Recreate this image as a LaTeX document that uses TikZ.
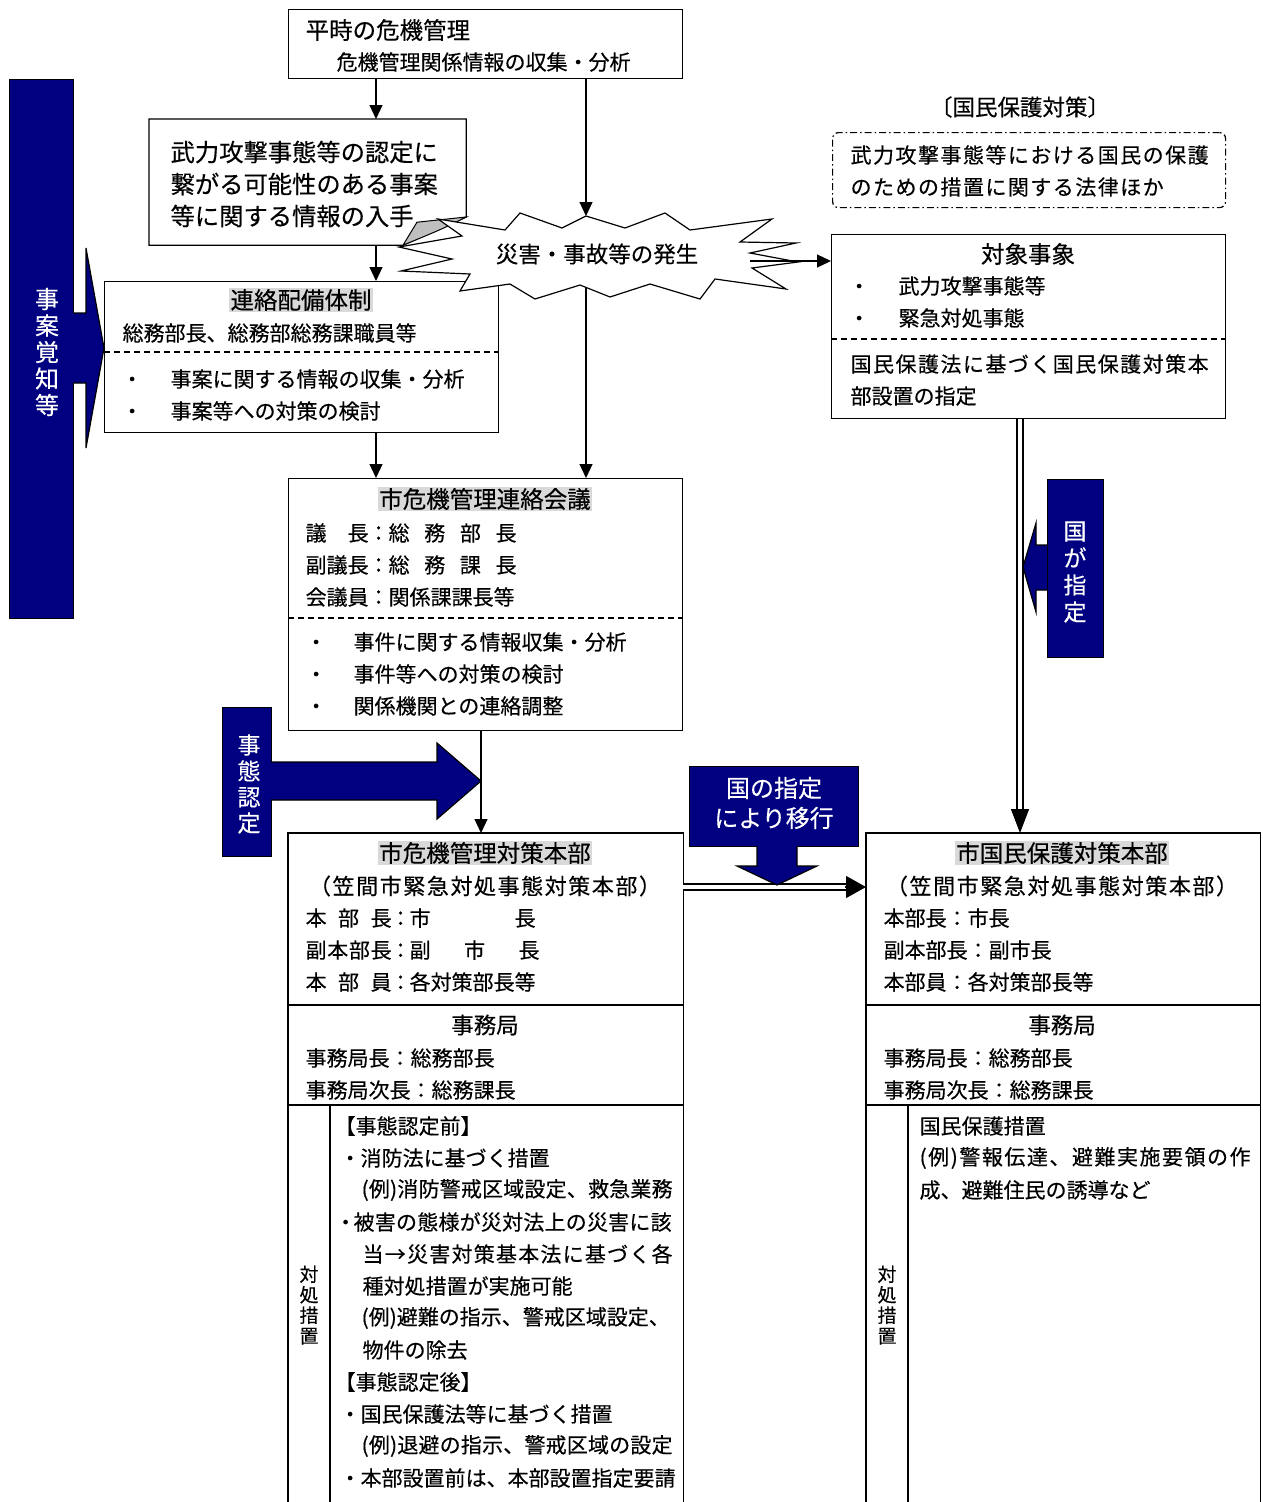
\documentclass[tikz,border=0pt]{standalone}
\usepackage{fontspec}
\setmainfont{Noto Sans CJK JP}[UprightFeatures={FakeBold=0.35}]
\newfontfamily\jpwide{Noto Sans CJK JP}[LetterSpace=7,UprightFeatures={FakeBold=0.35}]
\usetikzlibrary{arrows.meta,calc}
\newcommand\fs[1]{\fontsize{#1}{#1}\selectfont}
\newcommand\fsl[2]{\fontsize{#1}{#2}\selectfont}
% spread the characters of a line evenly over a given width
\def\spreadloop#1{\ifx\relax#1\else#1\hskip 0pt plus 1fil\expandafter\spreadloop\fi}
\newcommand\just[2]{\makebox[#1][s]{\spreadloop#2\relax\unskip}}
\definecolor{navyfill}{RGB}{0,0,128}
\definecolor{hlgray}{RGB}{217,217,217}

\begin{document}
\begin{tikzpicture}[x=1pt,y=-1pt,line width=1.2pt,
  box/.style={draw=black,fill=white,rectangle,inner sep=0pt,anchor=north west},
  slot/.style={rectangle,inner sep=0pt,anchor=north west},
  txt/.style={anchor=west,inner sep=0pt,font=\fs{21}},
  ctr/.style={anchor=center,inner sep=0pt,font=\fs{21}},
  hdr/.style={anchor=center,inner sep=1.5pt,fill=hlgray,font=\fs{23.5}},
  arr/.style={-{Triangle[length=14pt,width=13pt]}},
  navybox/.style={draw=black,fill=navyfill},
  vlabel/.style={text=white,align=center,inner sep=0pt},
  dashsep/.style={dash pattern=on 6pt off 4pt},
  dbl/.style={double=white,double distance=4.5pt,line width=1.4pt},
]
\fill[white] (0,0) rectangle (1263,1502);
\useasboundingbox (0,0) rectangle (1263,1502);

\coordinate (colA) at (376,0);
\coordinate (colB) at (586,0);
\coordinate (colC) at (481,0);
\coordinate (colD) at (1020,0);

% ---- routine crisis management
\node[box,minimum width=394pt,minimum height=69pt] (peace) at (288,9) {};
\node[txt,font=\fs{23.5}] (peaceA) at (305,30) {平時の危機管理};
\node[txt] (peaceB) at (336,62) {危機管理関係情報の収集・分析};

% ---- information box with folded corner
\node[slot,minimum width=316pt,minimum height=125pt] (info) at (149,119) {};
\draw[fill=white] (info.north west) -- (info.north east) -- ($(info.north east)+(0,98)$)
  -- ($(info.south west)+(254,0)$) -- (info.south west) -- cycle;
\draw[fill=black!25,line width=1pt] ($(info.south west)+(254,0)$) -- ($(info.south west)+(268,-23)$)
  -- ($(info.north east)+(0,98)$) .. controls ($(info.north east)+(-24,110)$) .. ($(info.south west)+(254,0)$) -- cycle;
\node[txt,font=\fsl{24.3}{32},align=left] (infoT) at (170,184)
  {武力攻撃事態等の認定に\\繋がる可能性のある事案\\等に関する情報の入手};

% ---- liaison stand-by
\node[box,minimum width=394pt,minimum height=151pt] (liaison) at (104,281) {};
\node[hdr] (liaisonH) at (301,300) {連絡配備体制};
\node[txt] (liaisonM) at (122,333) {総務部長、総務部総務課職員等};
\draw[dashsep] ($(liaison.north west)+(0,71)$) -- ($(liaison.north east)+(0,71)$);
\node[txt] (liaisonL1) at (121,379) {\makebox[49pt][l]{・}事案に関する情報の収集・分析};
\node[txt] (liaisonL2) at (121,411) {\makebox[49pt][l]{・}事案等への対策の検討};

% ---- event burst
\draw[fill=white] (462,236) -- (438,219) -- (505,230) -- (520,213) -- (562,228) -- (586,216)
  -- (625,228) -- (665,213) -- (690,230) -- (772,219) -- (740,242) -- (796,243) -- (750,253)
  -- (798,262) -- (752,268) -- (786,289) -- (715,279) -- (700,299) -- (650,284) -- (610,297)
  -- (580,285) -- (535,299) -- (510,284) -- (460,291) -- (470,274) -- (401,271) -- (452,259)
  -- (399,247) -- cycle;
\node[ctr,font=\fs{22.5}] (evt) at (597,254) {災害・事故等の発生};
\coordinate (evTop) at (586,216);
\coordinate (evBot) at (586,287);
\coordinate (evRight) at (750,261);

% ---- city crisis liaison council
\node[box,minimum width=394pt,minimum height=252pt] (council) at (288,478) {};
\node[hdr] (councilH) at (485,499) {市危機管理連絡会議};
\node[txt] (councilR1) at (305,533) {\makebox[63pt][s]{議\hfill 長}\makebox[20pt][c]{：}\makebox[128pt][s]{総\hfill 務\hfill 部\hfill 長}};
\node[txt] (councilR2) at (305,565) {\makebox[63pt][l]{副議長}\makebox[20pt][c]{：}\makebox[128pt][s]{総\hfill 務\hfill 課\hfill 長}};
\node[txt] (councilR3) at (305,597) {\makebox[63pt][l]{会議員}\makebox[20pt][c]{：}関係課課長等};
\draw[dashsep] ($(council.north west)+(0,140)$) -- ($(council.north east)+(0,140)$);
\node[txt] (councilL1) at (305,642) {\makebox[48pt][l]{・}事件に関する情報収集・分析};
\node[txt] (councilL2) at (305,674) {\makebox[48pt][l]{・}事件等への対策の検討};
\node[txt] (councilL3) at (305,706) {\makebox[48pt][l]{・}関係機関との連絡調整};

% ---- awareness bar
\node[navybox,anchor=north west,minimum width=64pt,minimum height=539pt] (aware) at (9,79) {};
\draw[navybox] (73,313) -- (86,313) -- (86,248) -- (104,348) -- (86,448) -- (86,383) -- (73,383);
\node[vlabel,font=\fsl{24}{26.5}] (awareT) at (47,352) {事\\案\\覚\\知\\等};

% ---- city crisis headquarters
\node[slot,minimum width=394pt,minimum height=669pt] (hq) at (288,833) {};
\draw (hq.south west) -- (hq.north west) -- (hq.north east) -- (hq.south east);
\node[hdr] (hqH) at (485,853) {市危機管理対策本部};
\node[ctr,font=\fs{22}] (hqS) at (485,886) {\just{352pt}{（笠間市緊急対処事態対策本部）}};
\node[txt] (hqR1) at (305,918) {\makebox[86pt][s]{本\hfill 部\hfill 長}\makebox[18pt][c]{：}\makebox[126pt][s]{市\hfill 長}};
\node[txt] (hqR2) at (305,950) {\makebox[86pt][s]{副\hfill 本\hfill 部\hfill 長}\makebox[18pt][c]{：}\makebox[130pt][s]{副\hfill 市\hfill 長}};
\node[txt] (hqR3) at (305,982) {\makebox[86pt][s]{本\hfill 部\hfill 員}\makebox[18pt][c]{：}各対策部長等};
\draw ($(hq.north west)+(0,172)$) -- ($(hq.north east)+(0,172)$);
\node[ctr,font=\fs{22.5}] (hqO) at (485,1025) {事務局};
\node[txt] (hqO1) at (305,1058) {事務局長：総務部長};
\node[txt] (hqO2) at (305,1090) {事務局次長：総務課長};
\draw ($(hq.north west)+(0,272)$) -- ($(hq.north east)+(0,272)$);
\draw ($(hq.north west)+(42,272)$) -- ($(hq.south west)+(42,0)$);
\node[vlabel,text=black,font=\fsl{19}{20.5}] (hqM) at (309,1305) {対\\処\\措\\置};
\node[txt] (hqT1) at (334,1126) {【事態認定前】};
\node[txt] (hqT2) at (339,1158) {・消防法に基づく措置};
\node[txt] (hqT3) at (361,1190) {\just{311pt}{(例)消防警戒区域設定、救急業務}};
\node[txt] (hqT4) at (337,1222) {\makebox[16pt][c]{・}\just{318pt}{被害の態様が災対法上の災害に該}};
\node[txt] (hqT5) at (362,1254) {\just{310pt}{当→災害対策基本法に基づく各}};
\node[txt] (hqT6) at (362,1286) {種対処措置が実施可能};
\node[txt] (hqT7) at (361,1318) {\just{307pt}{(例)避難の指示、警戒区域設定、}};
\node[txt] (hqT8) at (362,1350) {物件の除去};
\node[txt] (hqT9) at (334,1382) {【事態認定後】};
\node[txt] (hqT10) at (339,1414) {・国民保護法等に基づく措置};
\node[txt] (hqT11) at (361,1446) {\just{311pt}{(例)退避の指示、警戒区域の設定}};
\node[txt] (hqT12) at (339,1478) {\just{333pt}{・本部設置前は、本部設置指定要請}};

% ---- situation recognised
\node[navybox,anchor=north west,minimum width=49pt,minimum height=149pt] (recog) at (222,707) {};
\draw[navybox] (271,762) -- (437,762) -- (437,743) -- (481,781) -- (437,819) -- (437,800) -- (271,800);
\node[vlabel,font=\fsl{23}{26}] (recogT) at (249,784) {事\\態\\認\\定};

% ---- national civil protection side
\node[ctr,font=\fs{22.5}] (natPol) at (1020,107) {〔国民保護対策〕};
\node[draw,rounded corners=6pt,dash pattern=on 7pt off 3pt on 1.5pt off 3pt,anchor=north west,
  minimum width=393pt,minimum height=75pt,inner sep=0pt] (law) at (832,132) {};
\node[txt,font=\jpwide\fs{21}] (lawA) at (850,155) {武力攻撃事態等における国民の保護};
\node[txt,font=\jpwide\fs{21}] (lawB) at (850,187) {のための措置に関する法律ほか};

\node[box,minimum width=394pt,minimum height=184pt] (target) at (831,234) {};
\node[ctr,font=\fs{23.5}] (targetH) at (1028,254) {対象事象};
\node[txt] (targetL1) at (848,286) {\makebox[50pt][l]{・}武力攻撃事態等};
\node[txt] (targetL2) at (848,318) {\makebox[50pt][l]{・}緊急対処事態};
\draw[dashsep] ($(target.north west)+(0,105)$) -- ($(target.north east)+(0,105)$);
\node[txt] (targetN1) at (850,364) {\just{358pt}{国民保護法に基づく国民保護対策本}};
\node[txt] (targetN2) at (850,396) {部設置の指定};

% ---- city civil protection headquarters
\node[slot,minimum width=393pt,minimum height=669pt] (hq2) at (866,833) {};
\draw (hq2.south west) -- (hq2.north west) -- (hq2.north east) -- (hq2.south east);
\node[hdr] (hq2H) at (1062,853) {市国民保護対策本部};
\node[ctr,font=\fs{22}] (hq2S) at (1062,886) {\just{352pt}{（笠間市緊急対処事態対策本部）}};
\node[txt] (hq2R1) at (883,918) {本部長：市長};
\node[txt] (hq2R2) at (883,950) {副本部長：副市長};
\node[txt] (hq2R3) at (883,982) {本部員：各対策部長等};
\draw ($(hq2.north west)+(0,172)$) -- ($(hq2.north east)+(0,172)$);
\node[ctr,font=\fs{22.5}] (hq2O) at (1062,1025) {事務局};
\node[txt] (hq2O1) at (883,1058) {事務局長：総務部長};
\node[txt] (hq2O2) at (883,1090) {事務局次長：総務課長};
\draw ($(hq2.north west)+(0,272)$) -- ($(hq2.north east)+(0,272)$);
\draw ($(hq2.north west)+(42,272)$) -- ($(hq2.south west)+(42,0)$);
\node[vlabel,text=black,font=\fsl{19}{20.5}] (hq2M) at (887,1305) {対\\処\\措\\置};
\node[txt] (hq2T1) at (919,1126) {国民保護措置};
\node[txt] (hq2T2) at (919,1158) {\just{331pt}{(例)警報伝達、避難実施要領の作}};
\node[txt] (hq2T3) at (919,1190) {成、避難住民の誘導など};

% ---- connectors
\draw[arr] (peace.south -| colA) -- (info.north -| colA);
\draw[arr] (peace.south -| colB) -- (evTop);
\draw[arr] (info.south -| colA) -- (liaison.north -| colA);
\draw[arr] (liaison.south -| colA) -- (council.north -| colA);
\draw[arr] (evBot) -- (council.north -| colB);
\draw[arr] (evRight) -- (target.west |- evRight);
\draw[arr] (council.south -| colC) -- (hq.north -| colC);

% designation by the state: double line into the civil protection HQ
\draw[dbl] (target.south -| colD) -- ($(hq2.north -| colD)+(0,-21)$);
\draw[-{Triangle[length=24pt,width=18pt]}] ($(hq2.north -| colD)+(0,-23)$) -- (hq2.north -| colD);
\node[navybox,anchor=north west,minimum width=56pt,minimum height=178pt] (natl) at (1047,479) {};
\draw[navybox] (1047,545) -- (1036,545) -- (1036,523) -- (1023,567) -- (1036,612) -- (1036,590) -- (1047,590);
\node[vlabel,font=\fsl{23}{27}] (natlT) at (1075,572) {国\\が\\指\\定};

% transition between the two headquarters
\draw[dbl] ($(hq.north east)+(0,54)$) -- ($(hq2.north west)+(-19,54)$);
\draw[-{Triangle[length=20pt,width=22pt]}] ($(hq2.north west)+(-21,54)$) -- ($(hq2.north west)+(0,54)$);
\node[navybox,anchor=north west,minimum width=169pt,minimum height=80pt] (shift) at (689,766) {};
\draw[navybox] (757,846) -- (757,866) -- (737,866) -- (777,885) -- (817,866) -- (797,866) -- (797,846);
\node[vlabel,font=\fsl{24}{30}] (shiftT) at (774,803) {国の指定\\により移行};
\end{tikzpicture}
\end{document}
